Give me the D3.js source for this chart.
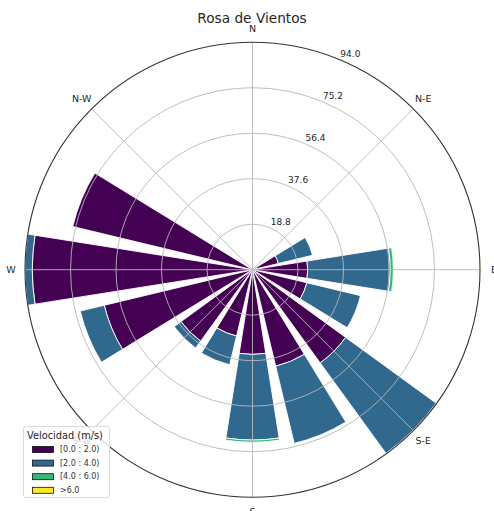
<!DOCTYPE html>
<html>
<head>
<meta charset="utf-8">
<script src="https://cdn.jsdelivr.net/npm/d3@7"></script>
<style>
  html, body { margin: 0; padding: 0; background: #fff; }
  svg { display: block; font-family: "DejaVu Sans", sans-serif; }
</style>
</head>
<body>
<svg id="chart" width="494" height="511"></svg>
<script>
// ---- data ----
const directions = ["N","NNE","NE","ENE","E","ESE","SE","SSE","S","SSW","SW","WSW","W","WNW","NW","NNW"];
const bins = ["[0.0 : 2.0)", "[2.0 : 4.0)", "[4.0 : 6.0)", ">6.0"];
const speed0to2 = [0, 0, 0, 11.0, 22.8, 23.1, 47.6, 41.0, 35.0, 28.2, 36.5, 63.0, 91.0, 76.4, 0, 0];
const speed2to4 = [0, 0, 0, 14.5, 34.1, 22.8, 46.2, 32.8, 35.4, 12.2, 3.5, 10.2, 3.0, 0, 0, 0];
const speed4to6 = [0, 0, 0, 0, 1.3, 0, 0, 0, 0.9, 0, 0, 0, 0, 0, 0, 0];
const speedOver6 = [0, 0, 0, 0, 0, 0, 0, 0, 0, 0, 0, 0, 0, 0, 0, 0];
const radialTicks = [18.8, 37.6, 56.4, 75.2, 94.0];
const compassLabels = ["N", "N-E", "E", "S-E", "S", "S-W", "W", "N-W"];
const compassAngles = [0, 45, 90, 135, 180, 225, 270, 315];
const colors = ["#440154", "#31688e", "#35b779", "#fde725"];
const titleText = "Rosa de Vientos";
const legendTitle = "Velocidad (m/s)";

const series = [speed0to2, speed2to4, speed4to6, speedOver6];

// ---- layout ----
const svg = d3.select("#chart");
const cx = 252.5, cy = 269.7, R = 227.5;
const rScale = d3.scaleLinear().domain([0, 94.0]).range([0, R]);
const angle = d3.scaleLinear().domain([0, directions.length]).range([0, 2 * Math.PI]);
const opening = 0.8 * (2 * Math.PI / directions.length);

const g = svg.append("g").attr("transform", `translate(${cx},${cy})`);

// stacked data
const stacked = [];
directions.forEach((d, i) => {
  let cum = 0;
  series.forEach((s, k) => {
    const v = s[i];
    if (v > 0) {
      stacked.push({dir: i, k: k, r0: cum, r1: cum + v});
    }
    cum += v;
  });
});

const arc = d3.arc()
  .innerRadius(d => rScale(d.r0))
  .outerRadius(d => rScale(d.r1))
  .startAngle(d => angle(d.dir) - opening / 2)
  .endAngle(d => angle(d.dir) + opening / 2);

g.append("g").selectAll("path")
  .data(stacked)
  .join("path")
  .attr("d", arc)
  .attr("fill", d => colors[d.k])
  .attr("stroke", "#ffffff")
  .attr("stroke-width", 0.9);

// grid circles
const grid = g.append("g");
grid.selectAll("circle.gc")
  .data(radialTicks.slice(0, -1))
  .join("circle")
  .attr("r", d => rScale(d))
  .attr("fill", "none")
  .attr("stroke", "#b8b8b8")
  .attr("stroke-width", 0.9);

// radial grid lines
grid.selectAll("line")
  .data(compassAngles)
  .join("line")
  .attr("x1", 0).attr("y1", 0)
  .attr("x2", d => R * Math.sin(d * Math.PI / 180))
  .attr("y2", d => -R * Math.cos(d * Math.PI / 180))
  .attr("stroke", "#b8b8b8")
  .attr("stroke-width", 0.9);

// outer spine
g.append("circle")
  .attr("r", rScale(94.0))
  .attr("fill", "none")
  .attr("stroke", "#333")
  .attr("stroke-width", 1.1);

// radial tick labels
const labAng = 22.5 * Math.PI / 180;
g.append("g").selectAll("text")
  .data(radialTicks)
  .join("text")
  .attr("x", d => rScale(d) * Math.sin(labAng) + 10.8)
  .attr("y", d => -rScale(d) * Math.cos(labAng) - 5.8)
  .attr("text-anchor", "middle")
  .attr("dominant-baseline", "central")
  .attr("font-size", 9)
  .attr("fill", "#262626")
  .text(d => d.toFixed(1));

// compass labels
const labR = R + 14;
g.append("g").selectAll("text")
  .data(compassLabels)
  .join("text")
  .attr("x", (d, i) => labR * Math.sin(compassAngles[i] * Math.PI / 180))
  .attr("y", (d, i) => -labR * Math.cos(compassAngles[i] * Math.PI / 180))
  .attr("text-anchor", "middle")
  .attr("dominant-baseline", "central")
  .attr("font-size", 9.5)
  .attr("fill", "#262626")
  .text(d => d);

// title
svg.append("text")
  .attr("x", 252)
  .attr("y", 23)
  .attr("text-anchor", "middle")
  .attr("font-size", 13.7)
  .attr("fill", "#262626")
  .text(titleText);

// legend
const lg = svg.append("g").attr("transform", "translate(23.5,426.5)");
lg.append("rect")
  .attr("width", 86).attr("height", 71)
  .attr("rx", 2.5)
  .attr("fill", "#ffffff").attr("fill-opacity", 0.82)
  .attr("stroke", "#d6d6d6").attr("stroke-width", 0.9);
lg.append("text")
  .attr("x", 3.5).attr("y", 12.5)
  .attr("font-size", 9.8)
  .attr("fill", "#262626")
  .text(legendTitle);
const rows = lg.selectAll("g.row")
  .data(bins)
  .join("g")
  .attr("transform", (d, i) => `translate(0,${23 + i * 13.6})`);
rows.append("rect")
  .attr("x", 9).attr("y", -3)
  .attr("width", 21).attr("height", 6)
  .attr("fill", (d, i) => colors[i])
  .attr("stroke", "#111").attr("stroke-width", 0.8);
rows.append("text")
  .attr("x", 36.5).attr("y", 0)
  .attr("dominant-baseline", "central")
  .attr("font-size", 8)
  .attr("fill", "#333")
  .text(d => d);
</script>
</body>
</html>
